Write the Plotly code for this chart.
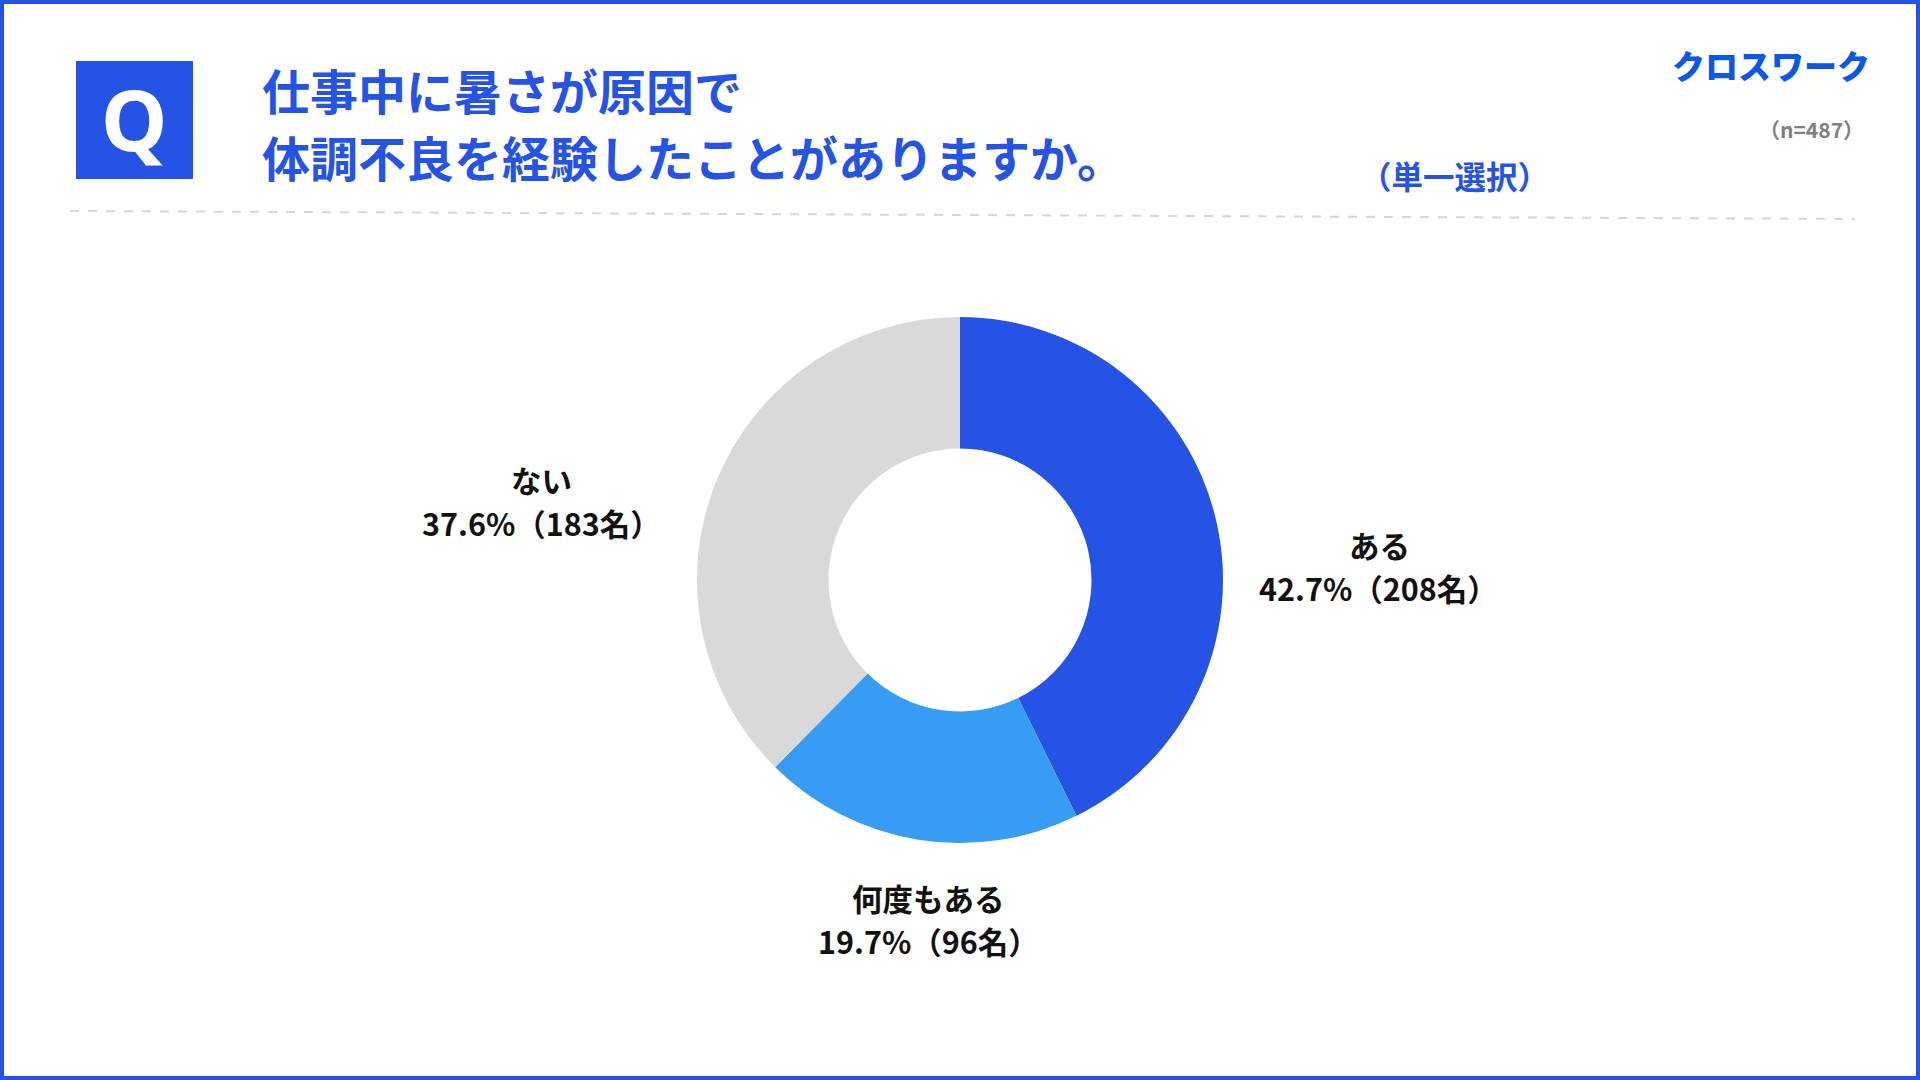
import plotly.graph_objects as go

labels = ["ある", "何度もある", "ない"]
percents = [42.7, 19.7, 37.6]
counts = [208, 96, 183]
colors = ["#2553E6", "#379CF3", "#D9D9D9"]

title_lines = ["仕事中に暑さが原因で", "体調不良を経験したことがありますか。"]
subtitle = "（単一選択）"
sample = "（n=487）"
logo = "クロスワーク"

W, H = 1920, 1080
FONT = "Noto Sans CJK JP"
BLUE = "#2553E6"


def px(x):
    return x / W


def py(y):
    return 1 - y / H


fig = go.Figure()
fig.add_trace(go.Pie(
    labels=labels,
    values=percents,
    marker=dict(colors=colors, line=dict(width=0)),
    hole=0.5,
    sort=False,
    direction="clockwise",
    rotation=0,
    textinfo="none",
    hoverinfo="label+percent",
    showlegend=False,
    domain=dict(x=[px(960 - 263), px(960 + 263)], y=[py(580 + 263), py(580 - 263)]),
))

annotations = []
# title
for i, line in enumerate(title_lines):
    annotations.append(dict(
        x=px(260), y=py(89 + i * 67), xref="paper", yref="paper",
        text=line, showarrow=False, xanchor="left", yanchor="middle",
        font=dict(family=FONT, size=48, color=BLUE, weight=700)))
annotations.append(dict(
    x=px(1454), y=py(175), xref="paper", yref="paper", text=subtitle,
    showarrow=False, xanchor="center", yanchor="middle",
    font=dict(family=FONT, size=31.5, color=BLUE, weight=700)))
annotations.append(dict(
    x=px(1771), y=py(65), xref="paper", yref="paper", text=logo,
    showarrow=False, xanchor="center", yanchor="middle",
    font=dict(family=FONT, size=33, color="#0B57E8", weight=900)))
annotations.append(dict(
    x=px(1811), y=py(129), xref="paper", yref="paper", text=sample,
    showarrow=False, xanchor="center", yanchor="middle",
    font=dict(family=FONT, size=21, color="#808080", weight=700)))
# Q box letter
annotations.append(dict(
    x=px(134), y=py(118), xref="paper", yref="paper", text="Q",
    showarrow=False, xanchor="center", yanchor="middle",
    font=dict(family="Noto Sans", size=84, color="white", weight=700)))

# slice label positions (name line, value line)
label_pos = {
    "ある": ((1379, 545), (1378, 588)),
    "何度もある": ((928, 898), (928, 941)),
    "ない": ((541, 480), (541, 523)),
}
for lab, p, c in zip(labels, percents, counts):
    (x1, y1), (x2, y2) = label_pos[lab]
    annotations.append(dict(
        x=px(x1), y=py(y1), xref="paper", yref="paper", text=lab,
        showarrow=False, xanchor="center", yanchor="middle",
        font=dict(family=FONT, size=30.5, color="#111111", weight=700)))
    annotations.append(dict(
        x=px(x2), y=py(y2), xref="paper", yref="paper",
        text=f"{p}%（{c}名）",
        showarrow=False, xanchor="center", yanchor="middle",
        font=dict(family=FONT, size=30.5, color="#111111", weight=700)))

shapes = [
    dict(type="rect", xref="paper", yref="paper", x0=0, y0=0, x1=1, y1=1,
         line=dict(color=BLUE, width=8), fillcolor="rgba(0,0,0,0)"),
    dict(type="rect", xref="paper", yref="paper", x0=px(76), x1=px(193),
         y0=py(179), y1=py(61), line=dict(width=0), fillcolor=BLUE, layer="below"),
    dict(type="line", xref="paper", yref="paper", x0=px(70), y0=py(211),
         x1=px(1855), y1=py(219), line=dict(color="#D6D6D6", width=2, dash="dash")),
]

fig.update_layout(
    width=W, height=H, autosize=False,
    margin=dict(l=0, r=0, t=0, b=0),
    paper_bgcolor="white", plot_bgcolor="white",
    annotations=annotations, shapes=shapes,
    font=dict(family=FONT),
)

fig.write_html(
    "out.html",
    config={"displayModeBar": False},
    post_script="document.body.style.margin='0';document.body.style.overflow='hidden';",
)
